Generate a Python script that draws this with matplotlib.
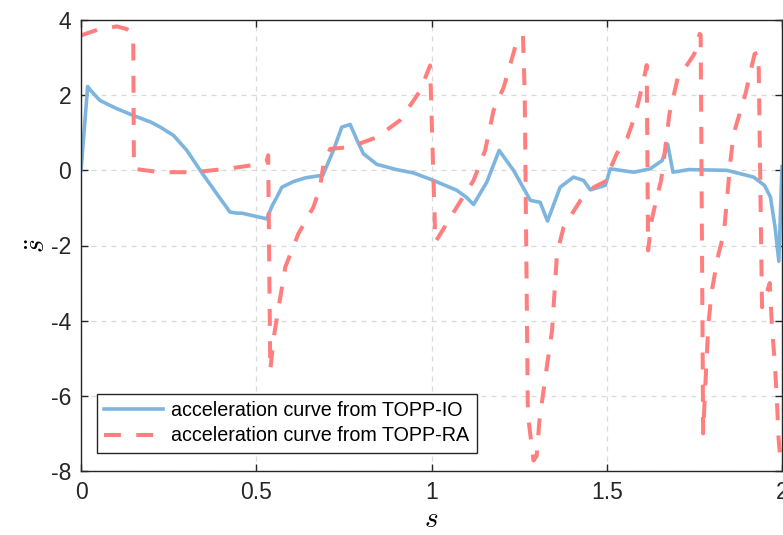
import numpy as np
import matplotlib
matplotlib.use("Agg")
import matplotlib.pyplot as plt

# acceleration curve from TOPP-IO
s_io = [0.000, 0.019, 0.030, 0.054, 0.100, 0.149, 0.200, 0.226, 0.264, 0.302,
        0.340, 0.387, 0.425, 0.445, 0.459, 0.530, 0.545, 0.559, 0.573, 0.606,
        0.640, 0.690, 0.720, 0.744, 0.768, 0.790, 0.806, 0.844, 0.900, 0.949,
        1.006, 1.072, 1.100, 1.120, 1.158, 1.193, 1.234, 1.282, 1.310, 1.331,
        1.367, 1.405, 1.434, 1.453, 1.496, 1.510, 1.577, 1.624, 1.658, 1.674,
        1.689, 1.734, 1.843, 1.919, 1.950, 1.967, 1.980, 1.991, 2.000]
sdd_io = [0.00, 2.23, 2.10, 1.86, 1.65, 1.46, 1.28, 1.15, 0.93, 0.53,
          0.00, -0.62, -1.11, -1.14, -1.14, -1.29, -0.95, -0.71, -0.45, -0.30,
          -0.20, -0.13, 0.53, 1.15, 1.22, 0.75, 0.44, 0.16, 0.02, -0.07,
          -0.27, -0.53, -0.72, -0.91, -0.31, 0.53, 0.00, -0.80, -0.85, -1.35,
          -0.45, -0.18, -0.27, -0.52, -0.40, 0.04, -0.05, 0.04, 0.26, 0.69,
          -0.05, 0.02, 0.00, -0.18, -0.40, -0.71, -1.50, -2.42, 0.10]

# acceleration curve from TOPP-RA
s_ra = [0.000, 0.050, 0.102, 0.130, 0.140, 0.149, 0.151, 0.226, 0.321, 0.416,
        0.500, 0.530, 0.534, 0.537, 0.540, 0.550, 0.564, 0.583, 0.620, 0.663,
        0.682, 0.692, 0.711, 0.768, 0.844, 0.910, 0.968, 0.996, 1.011, 1.072,
        1.120, 1.153, 1.177, 1.206, 1.244, 1.261, 1.266, 1.275, 1.291, 1.300,
        1.308, 1.329, 1.344, 1.358, 1.377, 1.425, 1.463, 1.501, 1.510, 1.529,
        1.558, 1.575, 1.590, 1.605, 1.614, 1.618, 1.628, 1.641, 1.655, 1.665,
        1.679, 1.703, 1.731, 1.750, 1.765, 1.768, 1.775, 1.781, 1.790, 1.800,
        1.819, 1.834, 1.853, 1.862, 1.896, 1.915, 1.922, 1.933, 1.943, 1.965,
        1.972, 1.979, 1.985, 1.990, 1.995]
sdd_ra = [3.59, 3.75, 3.83, 3.76, 3.70, 3.55, 0.04, -0.05, -0.05, 0.04,
          0.15, 0.25, 0.40, -2.50, -5.32, -4.44, -3.64, -2.57, -1.69, -0.98,
          -0.45, 0.18, 0.57, 0.62, 0.88, 1.33, 2.12, 2.79, -1.91, -0.98,
          -0.27, 0.53, 1.59, 2.21, 3.45, 3.59, 2.00, -6.50, -7.72, -7.60,
          -6.65, -5.23, -4.26, -2.22, -1.51, -0.80, -0.45, -0.27, 0.04, 0.45,
          0.85, 1.30, 1.80, 2.40, 2.80, -2.13, -1.33, -0.80, -0.27, 0.44,
          1.51, 2.48, 2.83, 3.10, 3.63, 3.60, -7.00, -5.77, -4.08, -3.19,
          -2.22, -1.69, 0.26, 0.97, 2.04, 2.83, 3.10, 3.14, -3.64, -3.00,
          -4.26, -5.06, -6.03, -7.10, -7.67]

plt.rcParams['font.family'] = ['Liberation Sans', 'DejaVu Sans']
plt.rcParams['mathtext.fontset'] = 'cm'
plt.rcParams['axes.unicode_minus'] = False

fig = plt.figure(figsize=(7.83, 5.35), dpi=100)
ax = fig.add_axes([81/783, 64/535, 701/783, 451/535])

ax.plot(s_io, sdd_io, color='#7EB5DF', lw=2.6, label='acceleration curve from TOPP-IO')
ax.plot(s_ra, sdd_ra, color='#FF7F7F', lw=2.9, dashes=(4.2, 3.8),
        label='acceleration curve from TOPP-RA')

ax.set_xlim(0, 2)
ax.set_ylim(-8, 4)
ax.set_xticks([0, 0.5, 1, 1.5, 2])
ax.set_xticklabels(['0', '0.5', '1', '1.5', '2'])
ax.set_yticks([-8, -6, -4, -2, 0, 2, 4])
ax.grid(True, ls=(0, (4, 4)), color='#d9d9d9', lw=0.9)
ax.tick_params(direction='in', length=5, width=1, colors='#262626',
               labelsize=16.5, top=True, right=True, pad=7)
for sp in ax.spines.values():
    sp.set_color('#262626')
    sp.set_linewidth(1.0)

ax.set_xlabel('$s$', fontsize=21, labelpad=1)
ax.set_ylabel(r'$\ddot{s}$', fontsize=21, labelpad=0)

leg = ax.legend(loc='lower left', bbox_to_anchor=(0.0224, 0.040), borderaxespad=0,
                fontsize=14.2, fancybox=False, framealpha=1, edgecolor='#262626',
                handlelength=3.0, handletextpad=0.4, borderpad=0.38, labelspacing=0.32)
leg.get_frame().set_linewidth(1.0)

fig.savefig('out.png', dpi=100)
